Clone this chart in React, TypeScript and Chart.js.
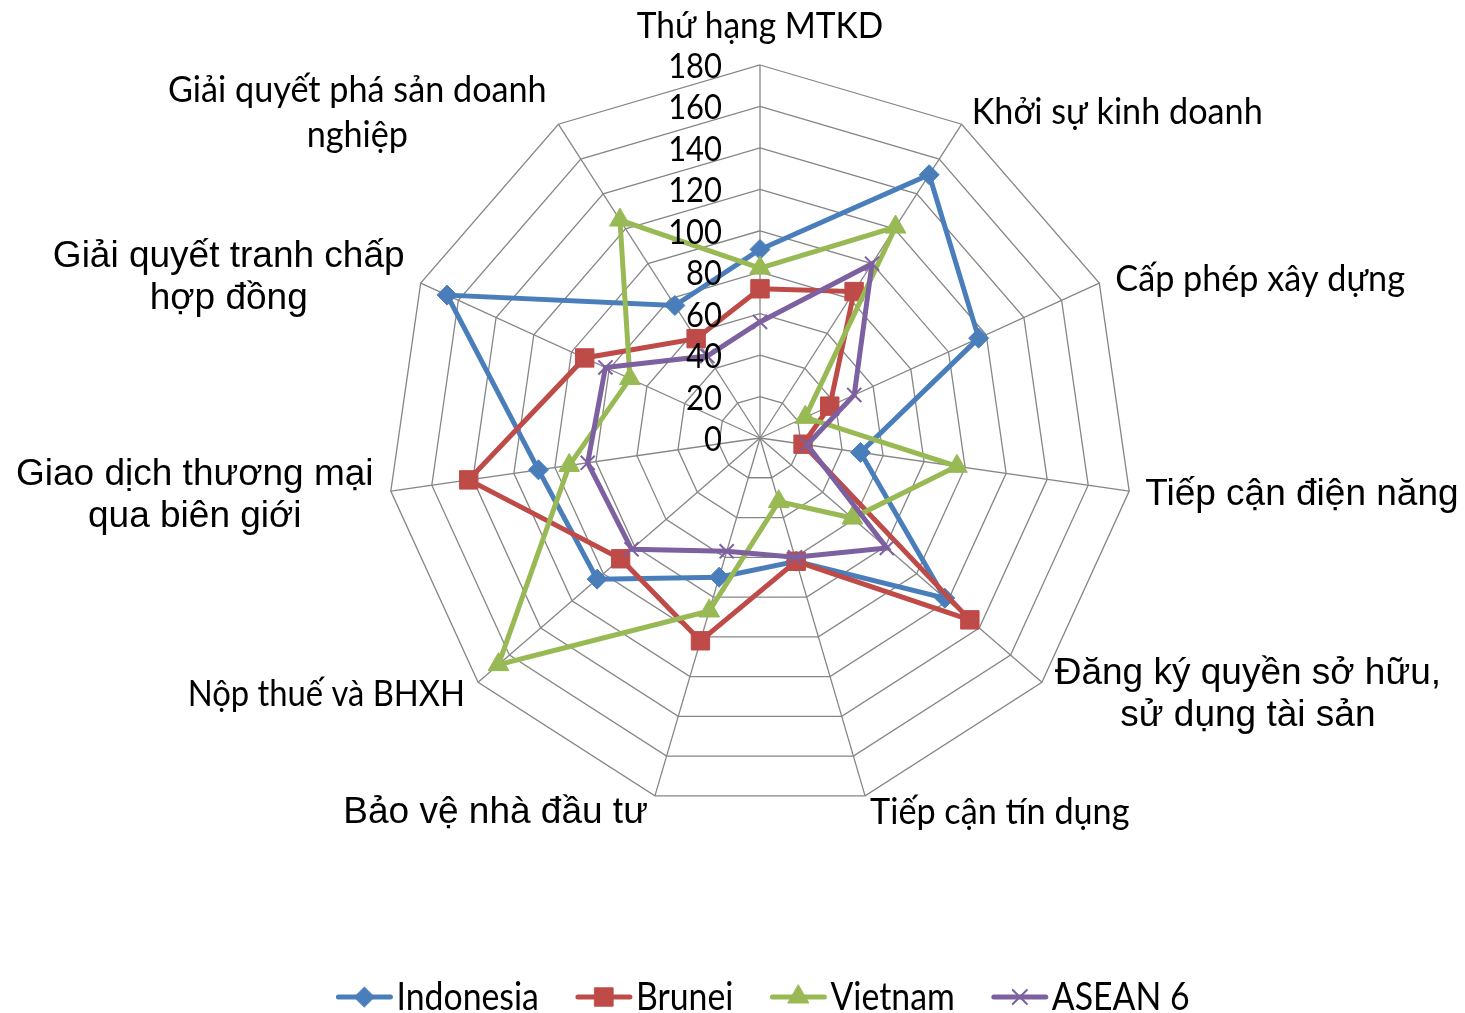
import React, { useEffect, useRef } from 'react';
import { Chart, registerables } from 'chart.js';
import { drawPoint } from 'chart.js/helpers';

Chart.register(...registerables);

// ---------- data ----------
const categories: (string | string[])[] = [
  'Thứ hạng MTKD',
  'Khởi sự kinh doanh',
  'Cấp phép xây dựng',
  'Tiếp cận điện năng',
  ['Đăng ký quyền sở hữu,', 'sử dụng tài sản'],
  'Tiếp cận tín dụng',
  'Bảo vệ nhà đầu tư',
  'Nộp thuế và BHXH',
  ['Giao dịch thương mại', 'qua biên giới'],
  ['Giải quyết tranh chấp', 'hợp đồng'],
  ['Giải quyết phá sản doanh', 'nghiệp'],
];

const seriesNames = ['Indonesia', 'Brunei', 'Vietnam', 'ASEAN 6'];
const indonesia = [91, 151, 116, 49, 118, 62, 70, 104, 108, 166, 76];
const brunei = [72, 84, 37, 21, 134, 62, 102, 89, 142, 93, 57];
const vietnam = [82, 121, 24, 96, 59, 32, 87, 167, 93, 69, 125];
const asean6 = [56, 100, 50, 23, 81, 60, 57, 82, 84, 82, 47];
const tickValues = [0, 20, 40, 60, 80, 100, 120, 140, 160, 180];

// ---------- styles ----------
const colors = ['#4A7EBB', '#BE4B48', '#98B954', '#7D60A0'];
const pointStyles = ['rectRot', 'rect', 'triangle', 'crossRot'];
const pointRadii = [10, 13, 12, 10];
const pointBorders = [1, 1, 1, 2];

const CAL = 'Lato, "Open Sans", sans-serif';
const ARI = '"Liberation Sans", Arial, sans-serif';
// per point label: font family, size, horizontal squeeze, align, dx, dy, lineHeight
const labelStyles = [
  { f: CAL, s: 36, sx: 0.93, a: 'center', dx: 0, dy: -39, lh: 44 },
  { f: CAL, s: 36, sx: 0.95, a: 'left', dx: 10, dy: -12, lh: 44 },
  { f: CAL, s: 36, sx: 0.95, a: 'left', dx: 16, dy: -4, lh: 44 },
  { f: ARI, s: 37, sx: 1, a: 'left', dx: 16, dy: 4, lh: 42 },
  { f: ARI, s: 37, sx: 1, a: 'center', dx: 206, dy: -8, lh: 42 },
  { f: CAL, s: 36, sx: 0.95, a: 'left', dx: 5, dy: 16, lh: 44 },
  { f: ARI, s: 37, sx: 1, a: 'right', dx: -7, dy: 17, lh: 42 },
  { f: CAL, s: 36, sx: 0.91, a: 'right', dx: -13, dy: 12, lh: 44 },
  { f: ARI, s: 37, sx: 1, a: 'center', dx: -196, dy: -16, lh: 42 },
  { f: ARI, s: 37, sx: 1, a: 'center', dx: -192, dy: -26, lh: 42 },
  { f: CAL, s: 36, sx: 0.95, a: 'center', dx: -201, dy: -34, lh: 45 },
];

function fillScaled(ctx: CanvasRenderingContext2D, text: string, x: number, y: number, sx: number) {
  ctx.save();
  ctx.translate(x, y);
  ctx.scale(sx, 1);
  ctx.fillText(text, 0, 0);
  ctx.restore();
}

const labelPlugin = {
  id: 'customRadarLabels',
  afterDatasetsDraw(chart: any) {
    const scale = chart.scales.r;
    const ctx: CanvasRenderingContext2D = chart.ctx;
    ctx.save();
    ctx.fillStyle = '#000';
    // tick labels (drawn on top of series, like the original)
    ctx.font = `34px ${CAL}`;
    ctx.textAlign = 'right';
    ctx.textBaseline = 'middle';
    tickValues.forEach((v) => {
      const d = scale.getDistanceFromCenterForValue(v);
      fillScaled(ctx, String(v), scale.xCenter - 38, scale.yCenter - d + 2, 0.91);
    });
    // category labels
    categories.forEach((lab, i) => {
      const st = labelStyles[i];
      const p = scale.getPointPosition(i, scale.drawingArea);
      const lines = Array.isArray(lab) ? lab : [lab];
      ctx.font = `${st.s}px ${st.f}`;
      ctx.textAlign = st.a as CanvasTextAlign;
      ctx.textBaseline = 'middle';
      lines.forEach((ln, k) => {
        fillScaled(ctx, ln, p.x + st.dx, p.y + st.dy + k * st.lh, st.sx);
      });
    });
    ctx.restore();
  },
};

const legendPlugin = {
  id: 'customLegend',
  afterDraw(chart: any) {
    const ctx: CanvasRenderingContext2D = chart.ctx;
    const scale = chart.scales.r;
    ctx.save();
    const sx = 0.89;
    ctx.font = `38px ${CAL}`;
    ctx.textBaseline = 'middle';
    ctx.textAlign = 'left';
    const lineW = 56;
    const gapText = 4;
    const gapItem = 37;
    const widths = seriesNames.map((n) => lineW + gapText + ctx.measureText(n).width * sx);
    const total = widths.reduce((a, b) => a + b, 0) + gapItem * (seriesNames.length - 1);
    let x = scale.xCenter + 3 - total / 2;
    const y = 997;
    seriesNames.forEach((n, i) => {
      ctx.strokeStyle = colors[i];
      ctx.lineWidth = 5;
      ctx.lineCap = 'round';
      ctx.beginPath();
      ctx.moveTo(x + 2, y);
      ctx.lineTo(x + lineW - 2, y);
      ctx.stroke();
      ctx.fillStyle = colors[i];
      ctx.strokeStyle = colors[i];
      ctx.lineWidth = pointBorders[i];
      drawPoint(ctx, { pointStyle: pointStyles[i] as any, radius: pointRadii[i], rotation: 0, borderWidth: pointBorders[i] } as any, x + lineW / 2, y);
      ctx.fillStyle = '#000';
      fillScaled(ctx, n, x + lineW + gapText, y + 1, sx);
      x += widths[i] + gapItem;
    });
    ctx.restore();
  },
};

const seriesData = [indonesia, brunei, vietnam, asean6];

export default function App() {
  const ref = useRef<HTMLCanvasElement | null>(null);
  useEffect(() => {
    if (!ref.current) return;
    const chart = new Chart(ref.current, {
      type: 'radar',
      data: {
        labels: categories.map((c) => (Array.isArray(c) ? c.join(' ') : c)),
        datasets: seriesNames.map((name, i) => ({
          label: name,
          data: seriesData[i],
          borderColor: colors[i],
          backgroundColor: colors[i],
          borderWidth: 5,
          fill: false,
          tension: 0,
          pointStyle: pointStyles[i] as any,
          pointRadius: pointRadii[i],
          pointBorderWidth: pointBorders[i],
          pointBackgroundColor: colors[i],
          pointBorderColor: colors[i],
          order: seriesNames.length - 1 - i,
        })),
      },
      options: {
        responsive: false,
        animation: false,
        devicePixelRatio: 1,
        layout: { padding: { left: 387, right: 332, top: 65, bottom: 202 } },
        plugins: {
          legend: { display: false },
          tooltip: { enabled: false },
        },
        scales: {
          r: {
            min: 0,
            max: 180,
            ticks: { stepSize: 20, display: false },
            pointLabels: { display: false },
            grid: { color: '#868686', lineWidth: 1.3 },
            angleLines: { color: '#868686', lineWidth: 1.3 },
          },
        },
      },
      plugins: [labelPlugin, legendPlugin],
    });
    return () => chart.destroy();
  }, []);
  return (
    <div style={{ position: 'absolute', left: 0, top: 0, width: 1465, height: 1013, background: '#fff' }}>
      <canvas ref={ref} width={1465} height={1013} />
    </div>
  );
}
